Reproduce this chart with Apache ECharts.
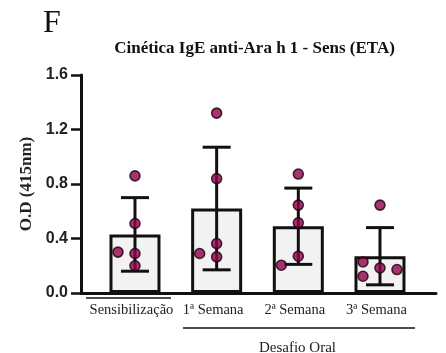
<!DOCTYPE html>
<html>
<head>
<meta charset="utf-8">
<script src="https://cdn.jsdelivr.net/npm/echarts@6/dist/echarts.min.js"></script>
<style>
  html, body { margin: 0; padding: 0; background: #fff; }
  #chart { width: 446px; height: 353px; }
</style>
</head>
<body>
<div id="chart"></div>
<script>
// Groups along the x axis
const categories = ['Sensibilização', '1ª Semana', '2ª Semana', '3ª Semana'];
const groupLabel = 'Desafio Oral';
const panelLetter = 'F';
const chartTitle = 'Cinética IgE anti-Ara h 1 - Sens (ETA)';
const yAxisTitle = 'O.D (415nm)';

// Group means and standard deviations (O.D at 415 nm)
const means = [0.43, 0.62, 0.49, 0.27];
const sds = [0.27, 0.45, 0.28, 0.21];

// Individual animals per group
const points = [
  [0.86, 0.51, 0.29, 0.30, 0.20],
  [1.32, 0.84, 0.363, 0.29, 0.265],
  [0.873, 0.645, 0.515, 0.27, 0.204],
  [0.645, 0.184, 0.228, 0.172, 0.123]
];

// Y axis ticks
const yTicks = [0, 0.4, 0.8, 1.2, 1.6];

// Layout of the plotting area
const GRID = { left: 81, right: 10, top: 75, bottom: 60 };
const X_MIN = 0.339, X_MAX = 4.686;
const Y_MIN = yTicks[0], Y_MAX = yTicks[yTicks.length - 1];
const plotW = 446 - GRID.left - GRID.right;
const plotH = 353 - GRID.top - GRID.bottom;
const pxPerX = plotW / (X_MAX - X_MIN);
const pxPerY = plotH / (Y_MAX - Y_MIN);

// Simple scatter dodge: points that would overlap are pushed sideways
const DOT_STEP = 17;   // px between dot columns
const DOT_GAP = 12;    // px minimum centre distance
function dodge(values) {
  const placed = [];
  return values.map(v => {
    for (const k of [0, -1, 1, -2, 2, -3, 3]) {
      const free = placed.every(p => Math.hypot((p.k - k) * DOT_STEP, (p.v - v) * pxPerY) >= DOT_GAP);
      if (free) { placed.push({ k, v }); return k; }
    }
    return 0;
  });
}

const dotData = [];
points.forEach((vals, i) => {
  const cols = dodge(vals);
  vals.forEach((v, j) => dotData.push([i + 1 + cols[j] * DOT_STEP / pxPerX, v]));
});

const barData = means.map((m, i) => [i + 1, m]);
const errData = means.map((m, i) => [i + 1, m, sds[i]]);

const INK = '#111';
const chart = echarts.init(document.getElementById('chart'), null, { renderer: 'canvas' });

chart.setOption({
  animation: false,
  backgroundColor: '#fff',
  grid: { left: GRID.left, right: GRID.right, top: GRID.top, bottom: GRID.bottom, containLabel: false },
  xAxis: {
    type: 'value',
    min: X_MIN,
    max: X_MAX,
    axisLine: { show: true, onZero: false, lineStyle: { color: INK, width: 3 } },
    axisTick: { show: false },
    splitLine: { show: false },
    axisLabel: {
      customValues: [1, 2, 3, 4],
      formatter: v => categories[Math.round(v) - 1] || '',
      fontFamily: 'Liberation Serif',
      fontSize: 14.5,
      color: '#222',
      margin: 10,
      padding: [0, 7, 0, 0]
    }
  },
  yAxis: {
    type: 'value',
    min: Y_MIN,
    max: Y_MAX,
    interval: 0.4,
    name: yAxisTitle,
    nameLocation: 'middle',
    nameRotate: 90,
    nameGap: 44,
    nameTextStyle: { fontFamily: 'Liberation Serif', fontWeight: 'bold', fontSize: 17, color: '#222' },
    axisLine: { show: true, lineStyle: { color: INK, width: 3 } },
    axisTick: { show: true, length: 10, lineStyle: { color: INK, width: 2.5 } },
    splitLine: { show: false },
    axisLabel: {
      formatter: v => v.toFixed(1),
      fontFamily: 'Liberation Sans',
      fontWeight: 'bold',
      fontSize: 16,
      color: '#222',
      margin: 13
    }
  },
  series: [
    {
      type: 'bar',
      data: barData,
      barWidth: 51,
      itemStyle: { color: '#f2f2f2', borderColor: INK, borderWidth: 3 },
      z: 2
    },
    {
      type: 'custom',
      data: errData,
      encode: { x: 0, y: 1 },
      z: 3,
      renderItem(params, api) {
        const x = api.value(0), m = api.value(1), s = api.value(2);
        const top = api.coord([x, m + s]);
        const bot = api.coord([x, m - s]);
        const hw = 14;
        const st = { stroke: INK, lineWidth: 3 };
        return {
          type: 'group',
          children: [
            { type: 'line', shape: { x1: top[0], y1: top[1], x2: bot[0], y2: bot[1] }, style: st },
            { type: 'line', shape: { x1: top[0] - hw, y1: top[1], x2: top[0] + hw, y2: top[1] }, style: st },
            { type: 'line', shape: { x1: bot[0] - hw, y1: bot[1], x2: bot[0] + hw, y2: bot[1] }, style: st }
          ]
        };
      }
    },
    {
      type: 'scatter',
      data: dotData,
      symbol: 'circle',
      symbolSize: 10,
      itemStyle: { color: '#94004a', borderColor: '#1a0010', borderWidth: 1.6 },
      z: 4
    }
  ],
  graphic: [
    { type: 'text', x: 43, y: 24, style: { text: panelLetter, font: '32px "Liberation Serif"', fill: '#111', align: 'left', verticalAlign: 'middle' } },
    { type: 'text', x: 254.5, y: 49, style: { text: chartTitle, font: 'bold 17px "Liberation Serif"', fill: '#111', align: 'center', verticalAlign: 'middle' } },
    { type: 'line', shape: { x1: 86, y1: 298, x2: 171, y2: 298 }, style: { stroke: INK, lineWidth: 1.5 } },
    { type: 'line', shape: { x1: 183, y1: 328, x2: 415, y2: 328 }, style: { stroke: INK, lineWidth: 1.5 } },
    { type: 'text', x: 297.5, y: 348, style: { text: groupLabel, font: '15px "Liberation Serif"', fill: '#222', align: 'center', verticalAlign: 'middle' } }
  ]
});
</script>
</body>
</html>
